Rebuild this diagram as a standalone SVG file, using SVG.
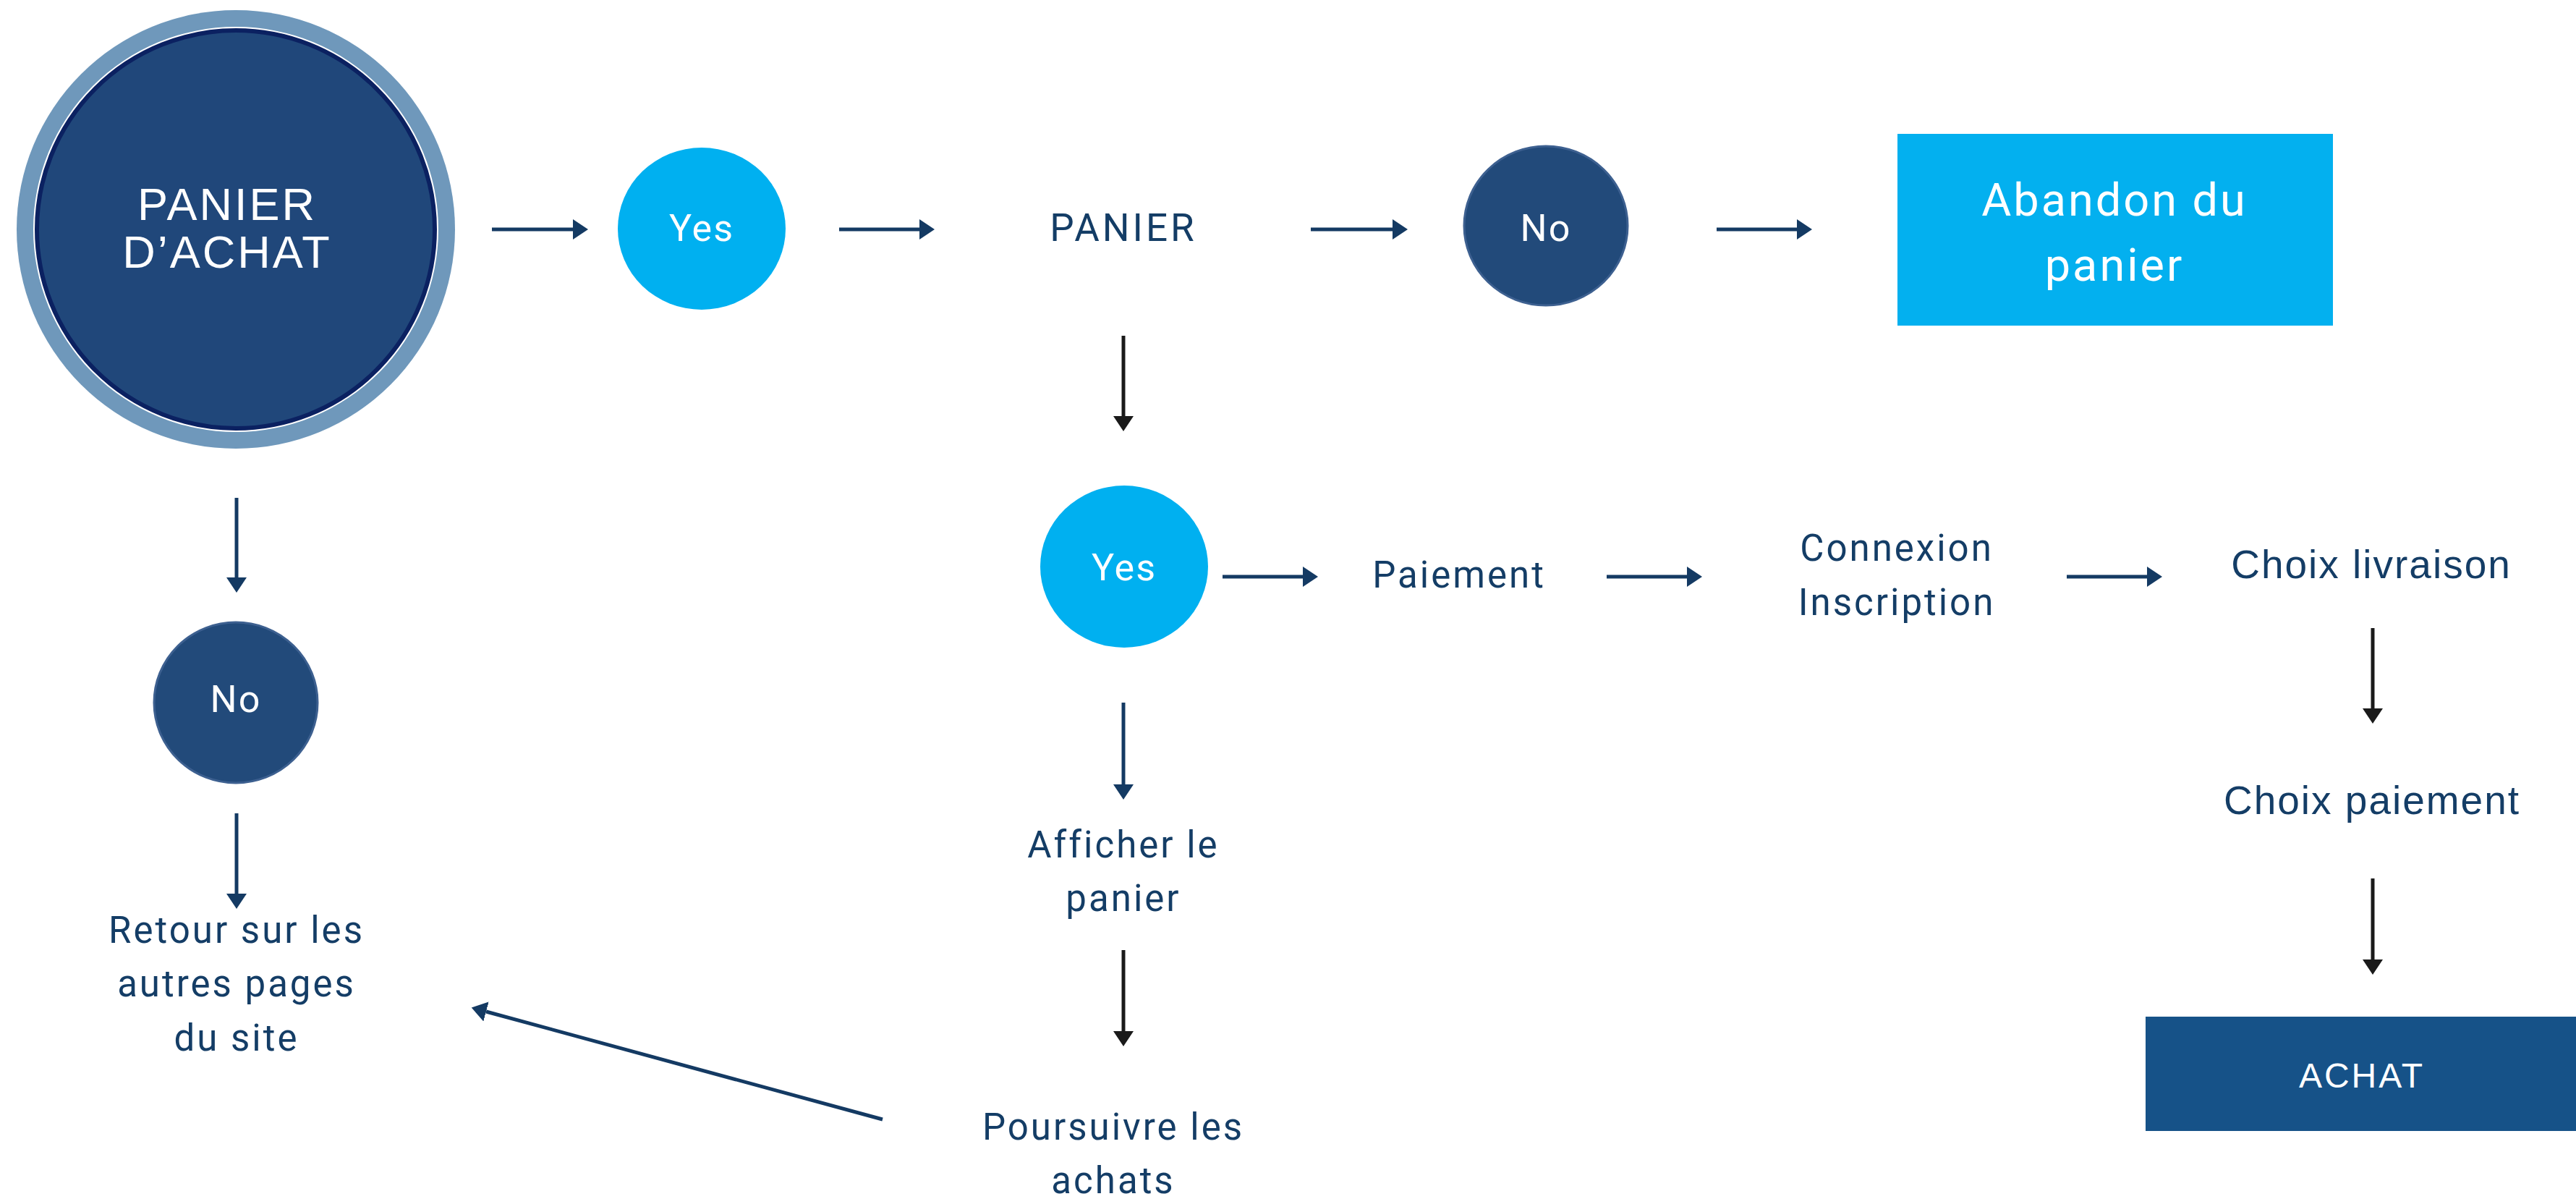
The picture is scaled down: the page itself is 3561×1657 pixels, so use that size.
<svg xmlns="http://www.w3.org/2000/svg" width="3561" height="1657" viewBox="0 0 3561 1657">
  <style>
    .lbl { font-family: Roboto, "Liberation Sans", sans-serif; fill: #143d66; font-size: 51px; letter-spacing: 3px; text-anchor: middle; }
    .wht { font-family: Roboto, "Liberation Sans", sans-serif; fill: #ffffff; font-size: 52px; letter-spacing: 2px; text-anchor: middle; }
    .big { font-size: 63px; letter-spacing: 3px; }
    .ari { font-family: "Liberation Sans", Arial, sans-serif; text-anchor: middle; }
    .navy { stroke: #143a63; stroke-width: 5; fill: none; }
    .blk { stroke: #1a1a1a; stroke-width: 5; fill: none; }
  </style>
  <defs>
    <marker id="hn" markerUnits="userSpaceOnUse" markerWidth="22" markerHeight="28" refX="0" refY="14" orient="auto">
      <path d="M0,0 L21,14 L0,28 z" fill="#143a63"/>
    </marker>
    <marker id="hb" markerUnits="userSpaceOnUse" markerWidth="22" markerHeight="28" refX="0" refY="14" orient="auto">
      <path d="M0,0 L21,14 L0,28 z" fill="#1a1a1a"/>
    </marker>
  </defs>
  <rect width="3561" height="1657" fill="#ffffff"/>

  <g id="connectors">
    <line class="navy" x1="680" y1="317" x2="792" y2="317" marker-end="url(#hn)"/>
    <line class="navy" x1="1160" y1="317" x2="1271" y2="317" marker-end="url(#hn)"/>
    <line class="navy" x1="1812" y1="317" x2="1925" y2="317" marker-end="url(#hn)"/>
    <line class="navy" x1="2373" y1="317" x2="2484" y2="317" marker-end="url(#hn)"/>
    <line class="navy" x1="1690" y1="797" x2="1801" y2="797" marker-end="url(#hn)"/>
    <line class="navy" x1="2221" y1="797" x2="2332" y2="797" marker-end="url(#hn)"/>
    <line class="navy" x1="2857" y1="797" x2="2968" y2="797" marker-end="url(#hn)"/>
    <line class="blk" x1="1553" y1="464" x2="1553" y2="575" marker-end="url(#hb)"/>
    <line class="navy" x1="1553" y1="971" x2="1553" y2="1084" marker-end="url(#hn)"/>
    <line class="blk" x1="1553" y1="1313" x2="1553" y2="1425" marker-end="url(#hb)"/>
    <line class="navy" x1="327" y1="688" x2="327" y2="798" marker-end="url(#hn)"/>
    <line class="navy" x1="327" y1="1124" x2="327" y2="1235" marker-end="url(#hn)"/>
    <line class="blk" x1="3280" y1="868" x2="3280" y2="979" marker-end="url(#hb)"/>
    <line class="blk" x1="3280" y1="1214" x2="3280" y2="1326" marker-end="url(#hb)"/>
    <line class="navy" x1="1220" y1="1547" x2="672" y2="1398" marker-end="url(#hn)"/>
  </g>

  <g id="start">
    <circle cx="326" cy="317" r="303" fill="#6f98bb"/>
    <circle cx="326" cy="317" r="280" fill="#ffffff"/>
    <circle cx="326" cy="317" r="275" fill="#20477a" stroke="#0b2161" stroke-width="6"/>
    <text class="ari" x="314" y="304" fill="#ffffff" font-size="63" letter-spacing="3">PANIER</text>
    <text class="ari" x="314" y="370" fill="#ffffff" font-size="63" letter-spacing="3">D’ACHAT</text>
  </g>

  <g id="yes1">
    <ellipse cx="970" cy="316" rx="116" ry="112" fill="#00b0f0"/>
    <text class="wht" x="970" y="333">Yes</text>
  </g>

  <g id="panier">
    <text class="lbl" x="1553" y="333" style="font-size:53px;letter-spacing:4px">PANIER</text>
  </g>

  <g id="no1">
    <ellipse cx="2137" cy="312" rx="113" ry="110" fill="#224a7a" stroke="#3d6090" stroke-width="3"/>
    <text class="wht" x="2137" y="333">No</text>
  </g>

  <g id="abandon">
    <rect x="2623" y="185" width="602" height="265" fill="#03b0ef"/>
    <text class="wht big" x="2923" y="298">Abandon du</text>
    <text class="wht big" x="2923" y="388">panier</text>
  </g>

  <g id="yes2">
    <ellipse cx="1554" cy="783" rx="116" ry="112" fill="#00b0f0"/>
    <text class="wht" x="1554" y="802">Yes</text>
  </g>

  <g id="paiement">
    <text class="lbl" x="2017" y="812">Paiement</text>
  </g>

  <g id="connexion">
    <text class="lbl" x="2622" y="775">Connexion</text>
    <text class="lbl" x="2622" y="850">Inscription</text>
  </g>

  <g id="livraison">
    <text class="ari" x="3278" y="799" fill="#143d66" font-size="55" letter-spacing="2">Choix livraison</text>
  </g>

  <g id="choixpaiement">
    <text class="ari" x="3279" y="1125" fill="#143d66" font-size="55" letter-spacing="2">Choix paiement</text>
  </g>

  <g id="achat">
    <rect x="2966" y="1405" width="595" height="158" fill="#165288"/>
    <text class="ari" x="3265" y="1503" fill="#ffffff" font-size="48" letter-spacing="3">ACHAT</text>
  </g>

  <g id="no2">
    <ellipse cx="326" cy="971" rx="113" ry="111" fill="#224a7a" stroke="#3d6090" stroke-width="3"/>
    <text class="wht" x="326" y="984">No</text>
  </g>

  <g id="retour">
    <text class="lbl" x="327" y="1303">Retour sur les</text>
    <text class="lbl" x="327" y="1377">autres pages</text>
    <text class="lbl" x="327" y="1452">du site</text>
  </g>

  <g id="afficher">
    <text class="lbl" x="1553" y="1185">Afficher le</text>
    <text class="lbl" x="1553" y="1259">panier</text>
  </g>

  <g id="poursuivre">
    <text class="lbl" x="1539" y="1575">Poursuivre les</text>
    <text class="lbl" x="1539" y="1649">achats</text>
  </g>
</svg>
